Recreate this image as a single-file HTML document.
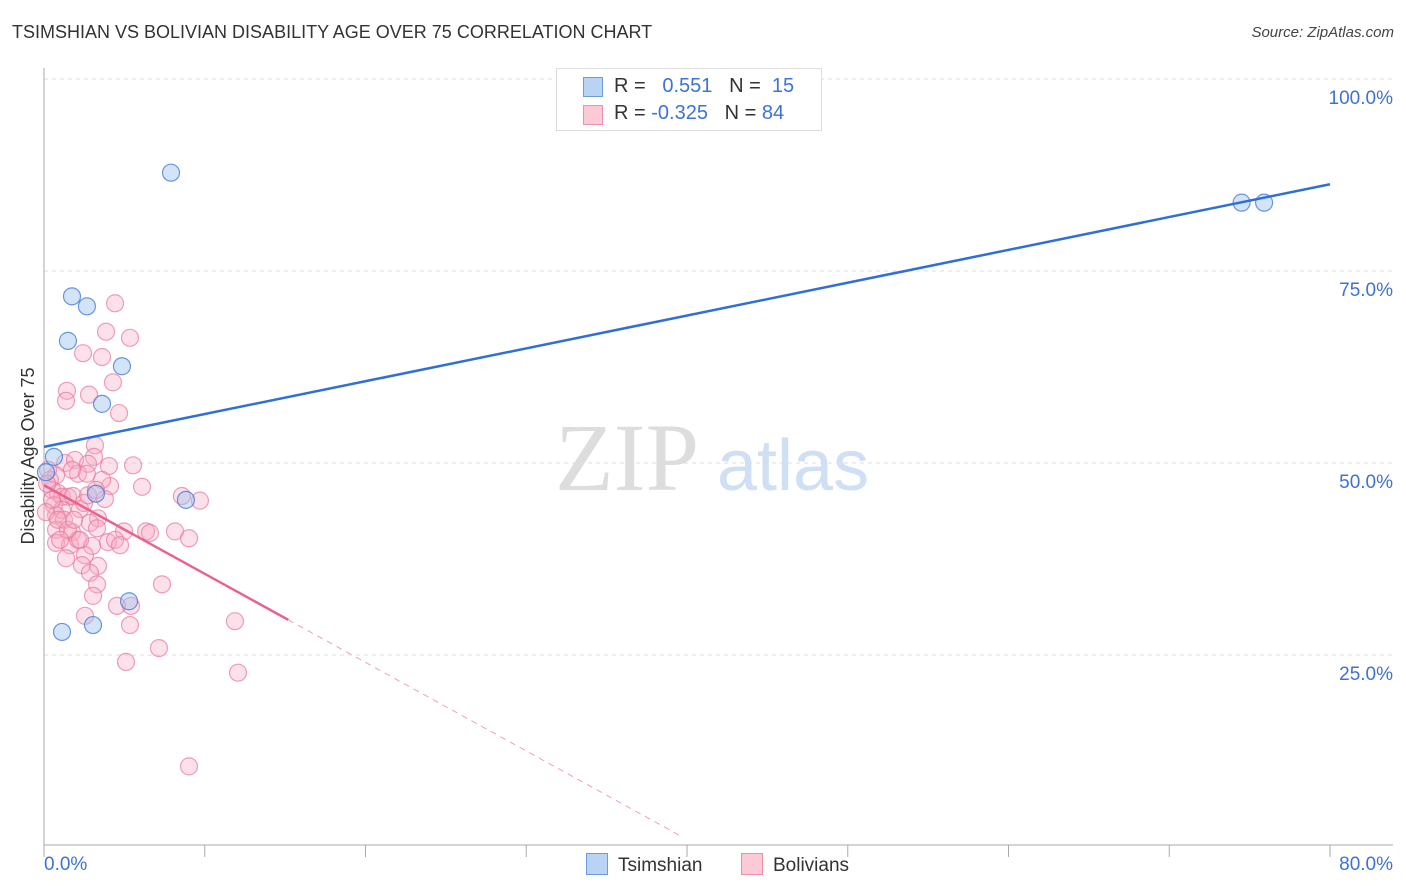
<!DOCTYPE html>
<html><head><meta charset="utf-8"><style>
body{margin:0;background:#fff;font-family:"Liberation Sans",sans-serif;}
#wrap{position:relative;width:1406px;height:892px;overflow:hidden}
.t{position:absolute;white-space:nowrap}
</style></head><body><div id="wrap">
<div class="t" style="left:12px;top:22px;font-size:18px;color:#333">TSIMSHIAN VS BOLIVIAN DISABILITY AGE OVER 75 CORRELATION CHART</div>
<div class="t" style="right:12px;top:24px;font-size:15px;color:#444;font-style:italic">Source: ZipAtlas.com</div>
<svg id="svg" width="1406" height="892" style="position:absolute;left:0;top:0"></svg>
</div>
<script>
const xTicks=[0,10,20,30,40,50,60,70,80];
const yTicks=[25,50,75,100];
const yTickLabels=["25.0%","50.0%","75.0%","100.0%"];
const xEndLabels=["0.0%","80.0%"];
const blueX=[7.9,1.74,2.67,1.49,4.85,3.61,0.62,3.23,8.83,5.29,3.05,1.12,74.5,75.9,0.12];
const blueY=[87.8,71.7,70.4,65.9,62.6,57.7,50.8,46.0,45.2,32.0,28.9,28.0,83.9,83.9,48.8];
const pinkX=[4.42,3.86,5.35,2.43,3.61,4.29,1.43,1.37,2.80,4.67,3.17,3.11,1.31,1.93,2.74,4.04,5.54,2.12,2.67,4.11,6.10,0.75,0.37,0.50,0.87,1.12,1.49,1.80,3.79,9.70,8.58,0.62,1.12,2.24,0.75,3.36,2.86,1.24,0.75,1.74,3.30,4.98,6.35,6.59,8.15,9.02,0.75,1.62,2.12,2.99,2.55,3.98,4.42,1.37,2.36,3.36,2.86,7.34,3.30,3.05,4.54,5.41,11.88,2.55,5.35,7.15,5.10,12.07,9.02,0.25,0.19,0.50,0.12,0.87,1.74,3.61,1.49,2.24,1.00,1.87,2.49,4.73,2.74,3.23];
const pinkY=[70.8,67.1,66.3,64.3,63.8,60.5,59.4,58.1,58.9,56.5,52.3,50.8,50.0,50.4,49.9,49.6,49.7,48.6,48.6,47.0,46.9,48.4,47.8,46.5,46.1,45.6,45.6,45.7,45.3,45.1,45.7,44.5,43.9,44.0,43.2,42.8,42.2,42.6,41.3,41.0,41.5,41.1,41.1,40.9,41.1,40.2,39.6,39.3,40.0,39.2,38.0,39.7,40.0,37.6,36.7,36.6,35.7,34.2,34.2,32.7,31.4,31.4,29.4,30.1,28.9,25.9,24.1,22.7,10.5,49.1,47.3,45.2,43.6,42.6,49.1,47.8,41.3,40.0,40.0,42.6,44.8,39.3,45.8,46.5];
const blueFit=[52.1,86.3];
const pinkFit=[47.1,-1.153];
const pinkSolidEnd=15.2, pinkDashEnd=39.5;
const NS="http://www.w3.org/2000/svg";
const svg=document.getElementById('svg');
const X=v=>44+v/80*1286, Y=v=>847-v/100*768;
function mk(t,a){const e=document.createElementNS(NS,t);for(const k in a)e.setAttribute(k,a[k]);svg.appendChild(e);return e;}
// gridlines
yTicks.forEach((v,i)=>{
 const g=mk('line',{x1:44,x2:1393,y1:Y(v),y2:Y(v),stroke:'#ddd','stroke-dasharray':'4,4'});
 
 
 const t=mk('text',{x:1393,y:Y(v)+25,'text-anchor':'end','font-size':19,fill:'#3d72d6','font-family':'Liberation Sans'});
 t.textContent=yTickLabels[i];
 
 
});
const ax=mk('line',{x1:44,x2:44,y1:68,y2:845,stroke:'#aaa'});


const bx=mk('line',{x1:44,x2:1393,y1:845,y2:845,stroke:'#aaa'});


xTicks.forEach(v=>{const l=mk('line',{x1:X(v),x2:X(v),y1:845,y2:857,stroke:'#aaa'});
 
 });
[[0,'start',44],[80,'end',1393]].forEach((p,i)=>{const t=mk('text',{x:p[2],y:870,'text-anchor':p[1],'font-size':19,fill:'#3d72d6','font-family':'Liberation Sans'});t.textContent=xEndLabels[i];
 
 });
const yt=mk('text',{x:0,y:0,transform:'translate(34,456) rotate(-90)','text-anchor':'middle','font-size':18,fill:'#333','font-family':'Liberation Sans'});yt.textContent='Disability Age Over 75';


// watermark
const wm=mk('text',{x:555,y:490,'font-size':96,fill:'#ddd','font-family':'Liberation Serif'});wm.textContent='ZIP';


const wm2=mk('text',{x:717,y:490,'font-size':72,fill:'#cfe0f5','font-family':'Liberation Sans'});wm2.textContent='atlas';


// points
pinkX.forEach((x,i)=>{const c=mk('circle',{cx:X(x),cy:Y(pinkY[i]),r:8.5,fill:'rgba(248,170,195,0.35)',stroke:'rgba(232,120,155,0.7)','stroke-width':1.2});
 
 });
blueX.forEach((x,i)=>{const c=mk('circle',{cx:X(x),cy:Y(blueY[i]),r:8.5,fill:'rgba(160,195,240,0.45)',stroke:'rgba(70,125,215,0.8)','stroke-width':1.2});
 
 });
// trend lines
const bl=mk('line',{x1:X(0),y1:Y(blueFit[0]),x2:X(80),y2:Y(blueFit[1]),stroke:'#2f6fd6','stroke-width':2.5});


const pf=x=>pinkFit[0]+pinkFit[1]*x;
const pl=mk('line',{x1:X(0),y1:Y(pf(0)),x2:X(pinkSolidEnd),y2:Y(pf(pinkSolidEnd)),stroke:'#e8628e','stroke-width':2.5});


const pd=mk('line',{x1:X(pinkSolidEnd),y1:Y(pf(pinkSolidEnd)),x2:X(pinkDashEnd),y2:Y(pf(pinkDashEnd)),stroke:'#eea0b8','stroke-width':1,'stroke-dasharray':'6,5'});


</script>
<div class="t" style="left:556px;top:68px;width:264px;height:61px;border:1px solid #ddd;background:#fff;font-size:20px;color:#333">
 <div style="position:absolute;left:26px;top:8px;width:18px;height:18px;background:#b9d3f5;border:1px solid #6d9be0"></div>
 <div style="position:absolute;left:57px;top:6px">R = &nbsp;<span style="color:#3d72d6">&nbsp;0.551</span>&nbsp;&nbsp;&nbsp;N = &nbsp;<span style="color:#3d72d6">15</span></div>
 <div style="position:absolute;left:26px;top:36px;width:18px;height:18px;background:#fcc9d7;border:1px solid #ec90ab"></div>
 <div style="position:absolute;left:57px;top:33px">R = <span style="color:#3d72d6">-0.325</span>&nbsp;&nbsp;&nbsp;N = <span style="color:#3d72d6">84</span></div>
</div>
<div class="t" style="left:586px;top:853px;font-size:19px;color:#333">
 <span style="display:inline-block;width:20px;height:20px;background:#b9d3f5;border:1px solid #6d9be0;vertical-align:-4px;margin-right:10px"></span>Tsimshian</div>
<div class="t" style="left:741px;top:853px;font-size:19px;color:#333">
 <span style="display:inline-block;width:20px;height:20px;background:#fcc9d7;border:1px solid #ec90ab;vertical-align:-4px;margin-right:10px"></span>Bolivians</div>
</body></html>
